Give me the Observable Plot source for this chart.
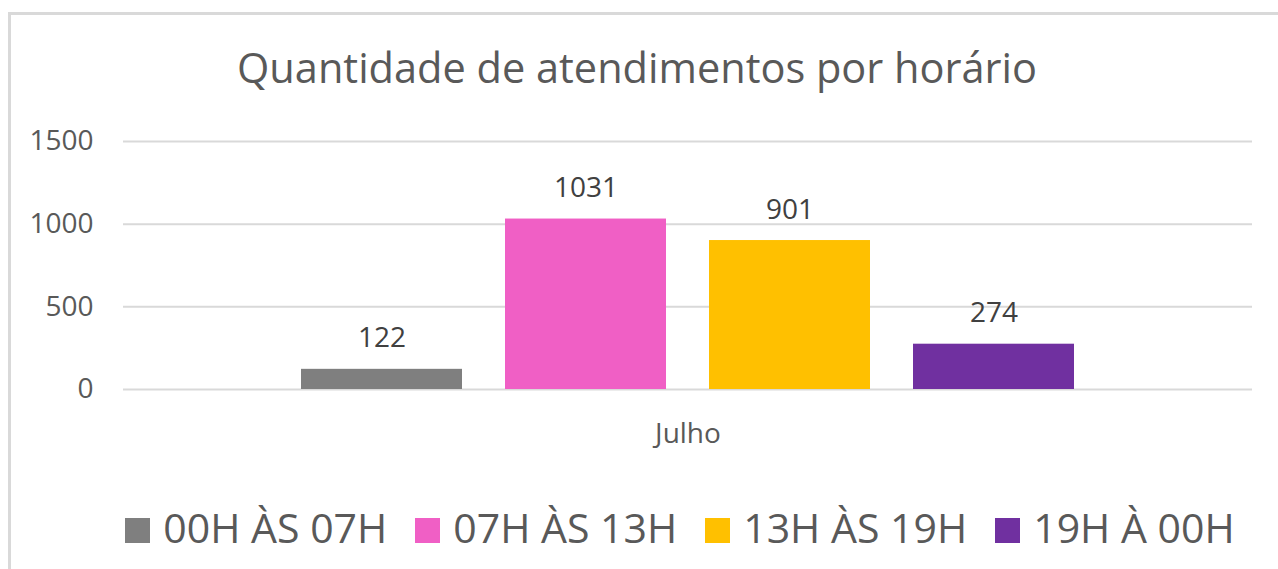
<!DOCTYPE html>
<html>
<head>
<meta charset="utf-8">
<script src="https://cdn.jsdelivr.net/npm/d3@7"></script>
<script src="https://cdn.jsdelivr.net/npm/@observablehq/plot@0.6"></script>
<style>
  html, body { margin: 0; padding: 0; background: #fff; width: 1278px; height: 569px; overflow: hidden; }
  #frame { position: absolute; left: 8px; top: 12px; width: 1400px; height: 700px; border: 3px solid #d9d9d9; box-sizing: border-box; }
  #title { position: absolute; left: 0; top: 47px; width: 1274px; text-align: center; font-family: "Open Sans", sans-serif; font-size: 41.5px; line-height: 40px; color: #595959; white-space: nowrap; }
  #chart { position: absolute; left: 0; top: 100px; }
  #legend { position: absolute; left: 0; top: 507px; width: 1360px; text-align: center; font-family: "Open Sans", sans-serif; font-size: 41px; line-height: 41px; color: #595959; white-space: nowrap; }
  .item { display: inline-block; margin: 0 14px; }
  .sw { display: inline-block; width: 25px; height: 25px; margin-right: 13px; vertical-align: baseline; }
</style>
</head>
<body>
<div id="frame"></div>
<div id="title"></div>
<div id="chart"></div>
<div id="legend"></div>
<script>
const titleText = "Quantidade de atendimentos por horário";
const categories = ["Julho"];
const series = ["00H ÀS 07H", "07H ÀS 13H", "13H ÀS 19H", "19H À 00H"];
const values = [122, 1031, 901, 274];
const colors = ["#7f7f7f", "#f05fc5", "#ffc000", "#7030a0"];
const yTicks = [0, 500, 1000, 1500];

const data = series.map((s, i) => ({month: categories[0], series: s, value: values[i]}));

document.getElementById("title").textContent = titleText;

const plot = Plot.plot({
  width: 1278,
  height: 370,
  marginLeft: 123,
  marginRight: 26,
  marginTop: 41,
  marginBottom: 81,
  style: {fontFamily: "'Open Sans', sans-serif", fontSize: "28px", color: "#595959", background: "transparent", overflow: "visible"},
  fx: {domain: categories, padding: 0},
  x: {domain: series, paddingInner: 0.2085, paddingOuter: 0.862, axis: null},
  y: {domain: [0, 1500], axis: null},
  color: {domain: series, range: colors},
  marks: [
    Plot.gridY(yTicks, {stroke: "#d9d9d9", strokeOpacity: 1, strokeWidth: 2}),
    Plot.barY(data, {fx: "month", x: "series", y: "value", fill: "series"}),
    Plot.text(data, {fx: "month", x: "series", y: "value", text: d => String(d.value), lineAnchor: "bottom", dy: -22, fill: "#404040", fontSize: 28}),
    Plot.axisY(yTicks, {tickSize: 0, tickPadding: 30, fontSize: 28, fill: "#595959", label: null, tickFormat: d => String(d)}),
    Plot.axisFx({anchor: "bottom", tickSize: 0, tickPadding: 34, fontSize: 28, fill: "#595959", label: null})
  ]
});
document.getElementById("chart").appendChild(plot);

const legend = document.getElementById("legend");
series.forEach((s, i) => {
  const item = document.createElement("span");
  item.className = "item";
  const sw = document.createElement("span");
  sw.className = "sw";
  sw.style.background = colors[i];
  item.appendChild(sw);
  item.appendChild(document.createTextNode(s));
  legend.appendChild(item);
});
</script>
</body>
</html>
